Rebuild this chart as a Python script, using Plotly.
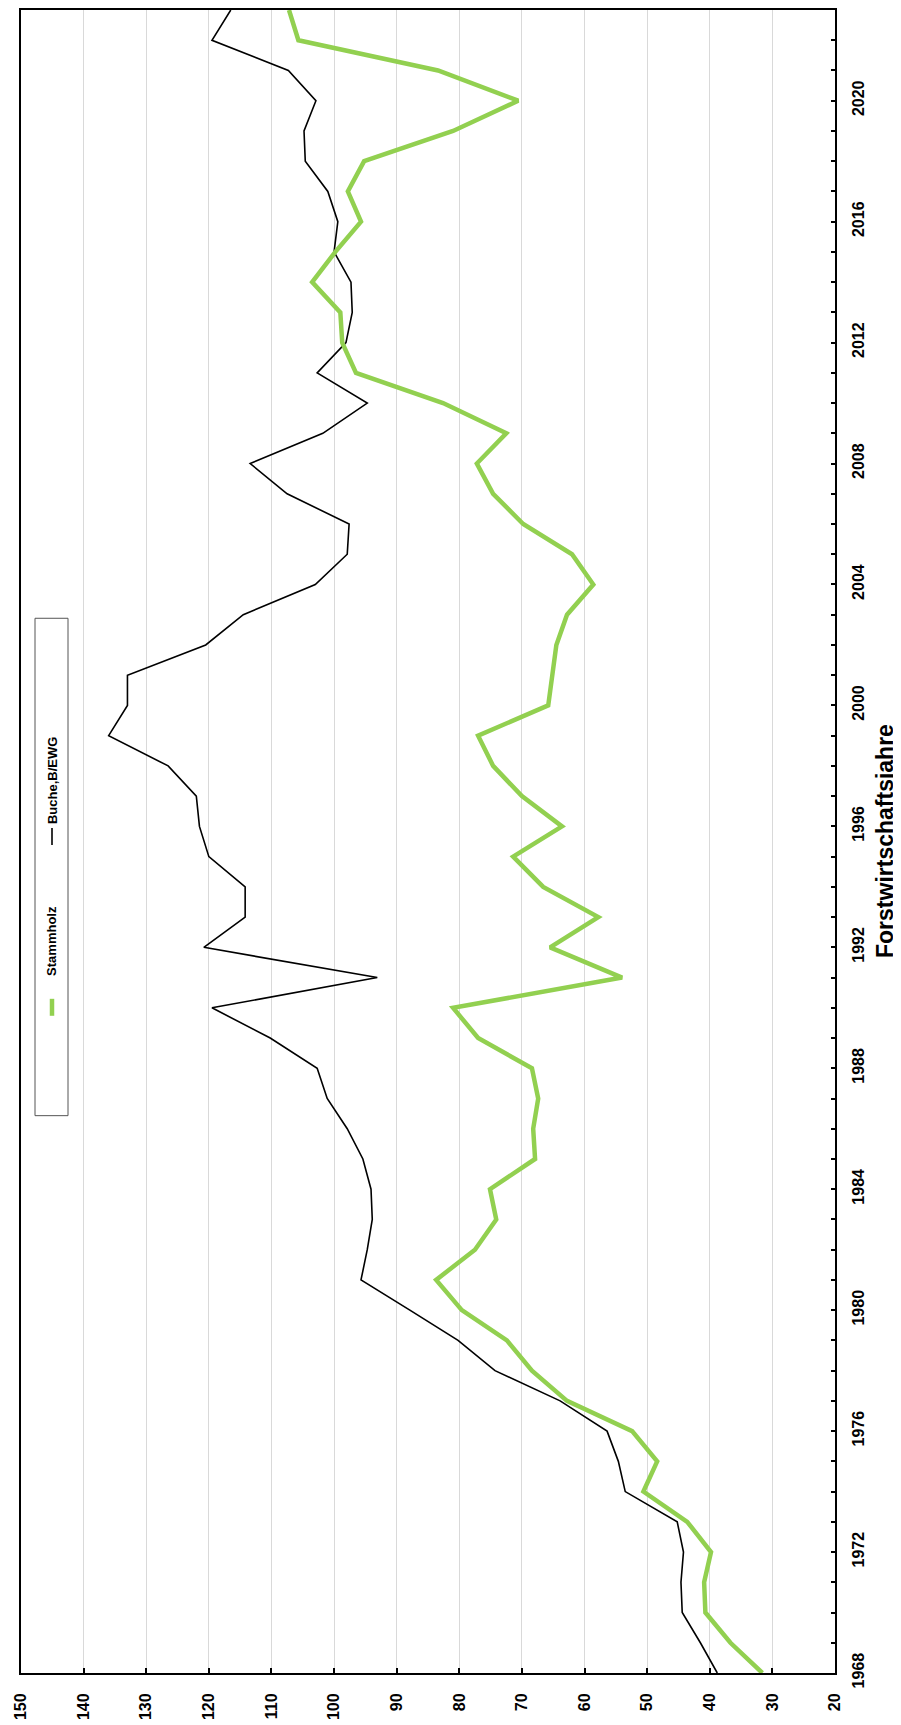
import plotly.graph_objects as go

years = list(range(1968, 2024))
stammholz = [31.6, 36.7, 40.7, 40.9, 39.8, 43.6, 50.6, 48.4, 52.4, 62.8,
             68.4, 72.4, 79.6, 83.7, 77.5, 74.1, 75.1, 67.9, 68.2, 67.4,
             68.4, 77.0, 81.0, 54.0, 65.5, 57.8, 66.6, 71.4, 63.6, 70.0,
             74.6, 77.0, 65.8, 65.2, 64.5, 62.8, 58.6, 62.0, 69.8, 74.6,
             77.2, 72.5, 82.6, 96.5, 98.7, 99.0, 103.5, 99.8, 95.7, 97.8,
             95.2, 81.0, 70.6, 83.4, 105.7, 107.2]
buche = [38.8, 41.5, 44.4, 44.6, 44.2, 45.2, 53.5, 54.6, 56.4, 63.9,
         74.3, 80.2, 87.9, 95.7, 94.7, 93.9, 94.1, 95.4, 97.9, 101.1,
         102.7, 110.2, 119.5, 93.1, 120.8, 114.2, 114.2, 120.0, 121.5, 122.0,
         126.5, 136.0, 133.0, 133.0, 120.5, 114.5, 103.0, 97.9, 97.6, 107.5,
         113.4, 101.8, 94.7, 102.7, 98.1, 97.1, 97.3, 100.0, 99.4, 101.0,
         104.6, 104.8, 102.9, 107.3, 119.5, 116.5]

value_ticks = list(range(20, 160, 10))
year_ticks = list(range(1968, 2024, 4))

GREEN = "#92D050"
FONT = "Liberation Sans, Arial, sans-serif"

# page body margin of the html page (8px) is compensated here
OFF = 8
W, H = 901 - OFF, 1725 - OFF
PL, PR, PT, PB = 21, 835, 8, 1673   # plot area in page pixels

fig = go.Figure()
fig.add_trace(go.Scatter(x=buche, y=years, mode="lines", name="Buche,B/EWG",
                         line=dict(color="black", width=1.6)))
fig.add_trace(go.Scatter(x=stammholz, y=years, mode="lines", name="Stammholz",
                         line=dict(color=GREEN, width=4.5)))

fig.update_layout(
    width=W, height=H,
    margin=dict(l=PL - OFF, r=W - (PR - OFF), t=PT - OFF, b=H - (PB - OFF), pad=0),
    paper_bgcolor="white", plot_bgcolor="white",
    showlegend=False,
    font=dict(family=FONT, color="black"),
)
fig.update_xaxes(
    range=[150, 20], tickvals=value_ticks, ticktext=[str(v) for v in value_ticks],
    tickangle=-90, tickfont=dict(size=16, family="Liberation Sans", weight="bold"),
    showgrid=True, gridcolor="#D9D9D9", gridwidth=1,
    showline=True, linecolor="black", linewidth=2, mirror=True,
    ticks="inside", ticklen=5, tickcolor="black", tickwidth=2,
    ticklabelstandoff=12, zeroline=False,
)
fig.update_yaxes(
    range=[1968, 2023], side="right", tickvals=year_ticks,
    ticktext=[str(y) for y in year_ticks],
    tickangle=-90,
    tickfont=dict(size=16, family="Liberation Sans Narrow, Liberation Sans", weight="bold"),
    showgrid=False,
    showline=True, linecolor="black", linewidth=2, mirror=True,
    ticks="inside", ticklen=4, tickcolor="black", tickwidth=2,
    minor=dict(dtick=1, ticks="inside", ticklen=4, tickcolor="black", tickwidth=2, showgrid=False),
    ticklabelstandoff=8, zeroline=False,
)

def px(x):
    return (x - PL) / (PR - PL)
def py(y):
    return (PB - y) / (PB - PT)

# axis title
fig.add_annotation(text="<b>Forstwirtschaftsjahre</b>", xref="paper", yref="paper",
                   x=px(885), y=py(840), textangle=-90, showarrow=False,
                   font=dict(size=23, family="Liberation Sans"),
                   xanchor="center", yanchor="middle")

# legend box
fig.add_shape(type="rect", xref="paper", yref="paper",
              x0=px(35), x1=px(68), y0=py(1115), y1=py(617),
              line=dict(color="#555555", width=1), fillcolor="white")
fig.add_shape(type="line", xref="paper", yref="paper",
              x0=px(52), x1=px(52), y0=py(1015), y1=py(998),
              line=dict(color=GREEN, width=4.5))
fig.add_annotation(text="<b>Stammholz</b>", xref="paper", yref="paper",
                   x=px(52), y=py(940), textangle=-90, showarrow=False,
                   font=dict(size=13, family="Liberation Sans"),
                   xanchor="center", yanchor="middle")
fig.add_shape(type="line", xref="paper", yref="paper",
              x0=px(52), x1=px(52), y0=py(844), y1=py(827),
              line=dict(color="black", width=1.6))
fig.add_annotation(text="<b>Buche,B/EWG</b>", xref="paper", yref="paper",
                   x=px(52), y=py(780), textangle=-90, showarrow=False,
                   font=dict(size=13, family="Liberation Sans"),
                   xanchor="center", yanchor="middle")

fig.write_html("out.html")
